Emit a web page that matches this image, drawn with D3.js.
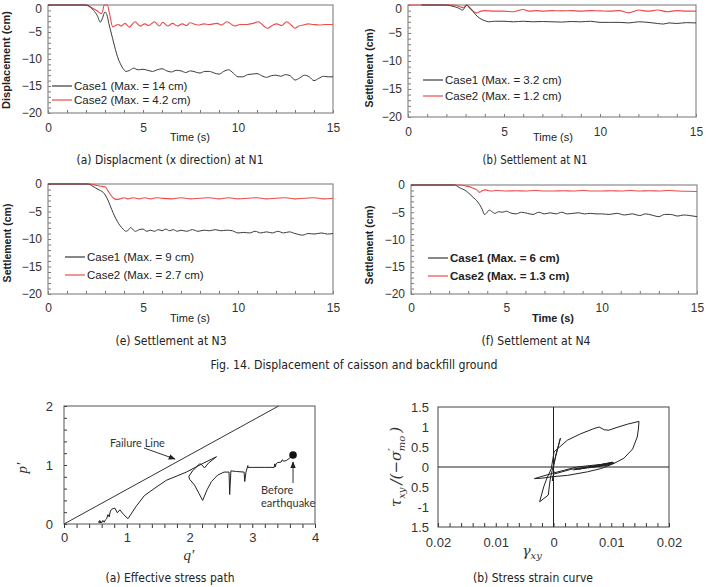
<!DOCTYPE html>
<html><head><meta charset="utf-8">
<script src="https://cdn.jsdelivr.net/npm/d3@7"></script>
<style>body{margin:0;background:#fff} svg{display:block}</style>
</head><body><svg id="c" width="708" height="587"></svg>
<script>
// ---------------- DATA ----------------
const timeTicks = [0, 5, 10, 15];
const dispTicks = [0, -5, -10, -15, -20];

// (a) Displacement (x direction) at N1
const aCase1 = [[0,0],[2.0,0],[2.2,-0.3],[2.4,-1.0],[2.6,-2.0],[2.75,-3.2],[2.85,-2.6],[3.0,-1.3],[3.1,-1.8],[3.2,-3.4],[3.3,-4.8],[3.4,-6.2],[3.5,-7.6],[3.6,-8.9],[3.7,-10.0],[3.8,-10.8],[3.9,-11.5],[4.0,-12.0],[4.1,-12.3],[4.3,-12.1],[4.5,-11.7],[4.75,-12.0],[5.0,-11.9],[5.25,-12.1],[5.5,-12.3],[5.75,-12.0],[6.0,-11.8],[6.25,-12.2],[6.5,-12.4],[6.75,-12.1],[7.0,-12.2],[7.25,-12.5],[7.5,-12.2],[7.75,-12.4],[8.0,-12.6],[8.25,-12.3],[8.5,-12.3],[8.75,-12.6],[9.0,-12.8],[9.25,-12.3],[9.5,-12.0],[9.75,-12.6],[10.0,-13.3],[10.25,-13.3],[10.5,-12.9],[10.75,-12.8],[11.0,-12.7],[11.25,-13.1],[11.5,-13.4],[11.75,-13.1],[12.0,-13.0],[12.25,-13.2],[12.5,-12.9],[12.75,-13.1],[13.0,-13.9],[13.25,-13.5],[13.5,-13.0],[13.75,-13.3],[14.0,-14.0],[14.25,-13.6],[14.5,-13.2],[14.75,-13.3],[15.0,-13.3]];
const aCase2 = [[0,0],[2.0,0],[2.3,-0.5],[2.6,-1.1],[2.8,-1.6],[2.9,-0.8],[2.95,0],[3.12,0],[3.25,-1.8],[3.4,-4.0],[3.55,-3.8],[3.7,-3.6],[3.85,-3.9],[4.05,-3.4],[4.28,-4.1],[4.58,-3.1],[4.84,-3.9],[5.1,-3.5],[5.3,-3.8],[5.6,-3.1],[5.86,-3.9],[6.04,-3.2],[6.3,-3.9],[6.56,-3.4],[6.8,-3.9],[7.07,-3.5],[7.3,-3.8],[7.47,-3.3],[7.9,-3.7],[8.2,-3.5],[8.5,-3.6],[8.9,-3.4],[9.15,-3.7],[9.4,-3.1],[9.84,-3.9],[10.1,-3.6],[10.46,-3.6],[10.8,-3.4],[11.07,-3.1],[11.3,-3.7],[11.54,-4.3],[11.8,-3.8],[12.04,-3.5],[12.3,-3.8],[12.56,-3.1],[12.8,-3.7],[13.0,-4.3],[13.2,-3.9],[13.44,-3.7],[13.7,-3.5],[13.95,-3.6],[14.3,-3.7],[14.6,-3.6],[15.0,-3.6]];

// (b) Settlement at N1
const bCase1 = [[0.7,0],[2.0,0],[2.3,-0.2],[2.6,-0.5],[2.85,-0.9],[3.0,-0.2],[3.05,0],[3.2,-0.5],[3.4,-1.2],[3.6,-2.0],[3.8,-2.5],[4.0,-2.8],[4.2,-3.0],[4.5,-2.9],[5,-2.9],[5.5,-3.0],[6,-2.9],[6.5,-3.0],[7,-2.95],[7.5,-3.0],[8,-3.05],[8.5,-2.95],[9,-3.0],[9.5,-2.9],[10,-3.1],[10.5,-3.1],[11,-3.1],[11.5,-3.2],[12,-3.0],[12.5,-3.1],[13,-3.3],[13.3,-3.4],[13.6,-3.2],[14,-3.3],[14.5,-3.15],[15,-3.2]];
const bCase2 = [[0,0],[2.4,0],[2.7,-0.3],[2.9,-0.5],[3.05,0],[3.2,-0.4],[3.4,-1.1],[3.55,-1.4],[3.8,-1.1],[4.0,-1.0],[4.5,-1.1],[5.0,-1.1],[5.5,-1.2],[6.0,-0.8],[6.3,-1.1],[6.7,-1.0],[7,-1.1],[7.5,-1.0],[8,-1.05],[8.5,-1.0],[9,-1.1],[9.5,-1.0],[10,-1.05],[10.5,-1.1],[11,-1.0],[11.5,-1.4],[11.8,-1.1],[12,-0.9],[12.5,-1.1],[13,-0.9],[13.5,-1.2],[14,-1.0],[14.5,-1.1],[15,-1.1]];

// (e) Settlement at N3
const eCase1 = [[0,0],[2.1,0],[2.3,-0.3],[2.5,-0.7],[2.7,-1.1],[2.9,-1.5],[3.05,-2.2],[3.2,-3.3],[3.35,-4.6],[3.5,-5.8],[3.65,-6.8],[3.8,-7.6],[3.95,-8.2],[4.1,-8.6],[4.25,-8.3],[4.35,-7.9],[4.5,-8.4],[4.6,-8.6],[4.8,-8.3],[5.0,-8.2],[5.2,-8.6],[5.4,-8.4],[5.6,-8.6],[5.8,-8.3],[6.0,-8.5],[6.2,-8.2],[6.4,-8.5],[6.6,-8.3],[6.8,-8.6],[7.0,-8.4],[7.3,-8.6],[7.6,-8.3],[7.9,-8.6],[8.2,-8.4],[8.5,-8.5],[8.8,-8.3],[9.1,-8.5],[9.4,-8.4],[9.7,-8.5],[10.0,-8.9],[10.3,-8.8],[10.6,-8.9],[10.9,-8.6],[11.2,-8.9],[11.5,-8.7],[11.8,-8.9],[12.1,-8.6],[12.4,-8.9],[12.7,-8.7],[13.0,-9.0],[13.4,-9.3],[13.7,-9.0],[14.0,-9.1],[14.4,-8.9],[14.7,-9.1],[15.0,-9.0]];
const eCase2 = [[0,0],[2.2,0],[2.5,-0.2],[2.8,-0.4],[3.0,-0.5],[3.15,-1.2],[3.3,-2.0],[3.45,-2.6],[3.6,-2.8],[3.8,-2.7],[4.0,-2.5],[4.2,-2.7],[4.5,-2.5],[4.8,-2.7],[5.1,-2.5],[5.4,-2.7],[5.7,-2.5],[6.0,-2.6],[6.5,-2.7],[7.0,-2.5],[7.5,-2.7],[8,-2.6],[8.5,-2.5],[9,-2.7],[9.5,-2.5],[10,-2.7],[10.5,-2.6],[11,-2.5],[11.5,-2.7],[12,-2.6],[12.5,-2.5],[13,-2.7],[13.5,-2.6],[14,-2.5],[14.5,-2.7],[15,-2.6]];

// (f) Settlement at N4
const fCase1 = [[0,0],[2.3,0],[2.45,-0.3],[2.6,-0.6],[2.8,-0.9],[3.0,-1.4],[3.15,-1.9],[3.3,-2.4],[3.45,-2.9],[3.6,-3.6],[3.75,-4.6],[3.85,-5.4],[3.95,-5.2],[4.1,-4.6],[4.25,-4.9],[4.4,-5.2],[4.6,-4.9],[4.8,-5.0],[5.0,-4.8],[5.2,-5.1],[5.5,-5.3],[5.8,-5.0],[6.1,-5.2],[6.4,-5.4],[6.7,-5.0],[7.0,-5.3],[7.3,-5.1],[7.6,-5.3],[7.9,-5.0],[8.2,-5.3],[8.5,-5.2],[8.8,-5.1],[9.1,-5.3],[9.4,-5.2],[9.7,-5.3],[10,-5.3],[10.4,-5.4],[10.8,-5.2],[11.2,-5.5],[11.6,-5.3],[12,-5.6],[12.3,-5.3],[12.6,-5.5],[13.0,-5.8],[13.3,-5.4],[13.6,-5.4],[14.0,-5.7],[14.3,-5.5],[14.6,-5.6],[15,-5.8]];
const fCase2 = [[0,0],[2.6,0],[2.9,-0.2],[3.2,-0.5],[3.45,-0.9],[3.6,-1.35],[3.75,-1.0],[3.9,-0.9],[4.2,-1.1],[4.5,-1.0],[5,-1.1],[5.5,-1.05],[6,-1.1],[6.5,-1.0],[7,-1.1],[7.5,-1.1],[8,-1.05],[8.5,-1.1],[9,-1.0],[9.5,-1.1],[10,-1.1],[10.5,-1.05],[11,-1.1],[11.5,-1.0],[12,-1.1],[12.5,-1.05],[13,-1.1],[13.5,-1.0],[14,-1.1],[14.5,-1.15],[15,-1.2]];

const legendA = ["Case1 (Max. = 14 cm)", "Case2 (Max. = 4.2 cm)"];
const legendB = ["Case1 (Max. = 3.2 cm)", "Case2 (Max. = 1.2 cm)"];
const legendE = ["Case1 (Max. = 9 cm)", "Case2 (Max. = 2.7 cm)"];
const legendF = ["Case1 (Max. = 6 cm)", "Case2 (Max. = 1.3 cm)"];

// Effective stress path (q', p')
const qTicks = [0, 1, 2, 3, 4];
const pTicks = [0, 1, 2];
const failQ = [0, 3.42];
const failP = [0, 2];
const pathQ = [3.65,3.60,3.55,3.52,3.50,3.48,3.46,3.40,3.38,3.37,3.36,3.35,3.20,3.00,2.93,2.93,2.90,2.88,2.87,2.75,2.66,2.64,2.63,2.55,2.45,2.35,2.28,2.21,2.15,2.08,2.00,1.99,2.05,2.16,2.19,2.24,2.30,2.43,2.20,1.95,1.63,1.45,1.28,1.15,1.02,0.95,0.89,0.85,0.81,0.76,0.74,0.72,0.70,0.68,0.66,0.64,0.62,0.60,0.58,0.56,0.55,0.57,0.59,0.56];
const pathP = [1.16,1.12,1.08,1.07,1.06,1.09,1.05,1.04,1.02,0.97,1.02,0.96,0.96,0.96,0.96,0.99,0.88,0.72,0.88,0.89,0.90,0.50,0.88,0.88,0.83,0.72,0.58,0.40,0.52,0.66,0.76,0.81,0.90,1.02,1.01,0.95,1.03,1.14,1.02,0.88,0.74,0.61,0.48,0.30,0.09,0.16,0.24,0.19,0.27,0.25,0.22,0.12,0.16,0.09,0.07,0.03,0.06,0.02,0.05,0.02,0.03,0.06,0.02,0.04];
const beforeEQ = [3.65, 1.17];

// Stress strain curve (gamma_xy, tau_xy/(-sigma'_mo))
const gTickVals = [-0.02, -0.01, 0, 0.01, 0.02];
const gTickLabels = ["0.02", "0.01", "0", "0.01", "0.02"];
const tTickVals = [1.5, 1, 0.5, 0, -0.5, -1, -1.5];
const tTickLabels = ["1.5", "1", "0.5", "0", "0.5", "-1", "1.5"];
const ssGamma = [0,0.0004,0.0012,0.0008,0.0000,-0.0005,-0.0007,-0.0009,-0.0024,-0.0017,-0.0012,-0.0004,0.0001,0.0024,0.0047,0.0070,0.0079,0.0088,0.0096,0.0110,0.0128,0.0148,0.0147,0.0145,0.0137,0.0122,0.0105,0.0082,0.0059,0.0024,0.0000,-0.0020,-0.0033,0.0000,0.0040,0.0105,0.0035,0.0100,0.0045,0.0102,0.0060,0.0098,0.0070,0.0104,0.0030,0.0000,-0.0002,0.0001];
const ssTau = [0,0.30,0.72,0.50,0.05,-0.25,-0.45,-0.70,-0.87,-0.50,-0.30,-0.05,0.38,0.67,0.83,0.96,1.00,0.93,0.92,0.99,1.07,1.14,0.95,0.75,0.45,0.22,0.09,-0.04,-0.12,-0.21,-0.24,-0.28,-0.29,-0.15,0.00,0.10,-0.07,0.08,-0.05,0.12,-0.02,0.06,0.00,0.10,-0.06,-0.18,-0.35,-0.10];

// ---------------- DRAWING ----------------
const svg = d3.select("#c");
svg.append("rect").attr("width",708).attr("height",587).attr("fill","#fff");
const BLACK = "#3a3a3a", RED = "#ee4a4a";
const SANS = "'Liberation Sans', Arial, sans-serif";
const CAP = "'Liberation Sans Narrow','DejaVu Sans Condensed','Liberation Sans',sans-serif";

function styleAxis(g, col) {
  g.select(".domain").remove();
  g.selectAll("line").attr("stroke", col);
  g.selectAll("text").attr("fill", "#333");
}

function tsPanel(o) {
  const x = d3.scaleLinear().domain([0,15]).range([o.x0,o.x1]);
  const y = d3.scaleLinear().domain([-20,0]).range([o.y1,o.y0]);
  const g = svg.append("g");
  g.append("g").attr("transform",`translate(0,${o.y1})`)
    .call(d3.axisTop(x).ticks(15).tickSize(3).tickFormat(""))
    .call(a => styleAxis(a, "#777"));
  g.append("g").attr("transform",`translate(${o.x0},0)`)
    .call(d3.axisRight(y).ticks(20).tickSize(3).tickFormat(""))
    .call(a => styleAxis(a, "#777"));
  g.append("g").attr("transform",`translate(0,${o.y1})`)
    .call(d3.axisBottom(x).tickValues(timeTicks).tickSize(0).tickPadding(o.xpad))
    .call(a => styleAxis(a, "#777"))
    .selectAll("text").attr("font-family",SANS).attr("font-size",12);
  const yl = g.append("g").attr("transform",`translate(${o.x0},0)`)
    .call(d3.axisLeft(y).tickValues(dispTicks).tickSize(0).tickPadding(6))
    .call(a => styleAxis(a, "#777"));
  yl.selectAll("text").attr("font-family",SANS).attr("font-size",12);
  if (o.y0 < 10) yl.selectAll("text").filter(d => d === 0).attr("dy","0.62em");
  g.append("rect").attr("x",o.x0).attr("y",o.y0).attr("width",o.x1-o.x0).attr("height",o.y1-o.y0)
    .attr("fill","none").attr("stroke","#8a8a8a").attr("stroke-width",1.2);
  const line = d3.line().x(d=>x(d[0])).y(d=>y(d[1])).curve(d3.curveMonotoneX);
  g.append("path").datum(o.s2).attr("d",line).attr("fill","none").attr("stroke",RED).attr("stroke-width",1.1);
  g.append("path").datum(o.s1).attr("d",line).attr("fill","none").attr("stroke",BLACK).attr("stroke-width",1);
  [[BLACK,o.legY[0],o.leg[0]],[RED,o.legY[1],o.leg[1]]].forEach(([c,ly,t]) => {
    g.append("line").attr("x1",o.legX).attr("x2",o.legX+20).attr("y1",ly).attr("y2",ly).attr("stroke",c).attr("stroke-width",1.2);
    g.append("text").attr("x",o.legX+22).attr("y",ly+4).text(t)
      .attr("font-family",SANS).attr("font-size",11.5).attr("fill","#222").attr("font-weight",o.bold?"bold":"normal");
  });
  g.append("text").attr("x",o.tx).attr("y",o.ty).attr("text-anchor","middle").text("Time (s)")
    .attr("font-family",SANS).attr("font-size",11).attr("fill","#222").attr("font-weight",o.bold?"bold":"normal");
  g.append("text").attr("transform",`translate(${o.yx},${o.yy}) rotate(-90)`).attr("text-anchor","middle")
    .text(o.ylab).attr("font-family",SANS).attr("font-size",o.ysize).attr("font-weight","bold").attr("fill","#222");
}

tsPanel({x0:48,x1:333,y0:5,y1:113,xpad:10,s1:aCase1,s2:aCase2,leg:legendA,legX:52,legY:[86,100],
  tx:190,ty:141,yx:10,yy:60,ylab:"Displacement (cm)",ysize:11,bold:false});
tsPanel({x0:408,x1:696,y0:5,y1:117,xpad:10,s1:bCase1,s2:bCase2,leg:legendB,legX:423,legY:[80,96],
  tx:553,ty:141,yx:373,yy:68,ylab:"Settlement (cm)",ysize:10.5,bold:false});
tsPanel({x0:48,x1:333,y0:184,y1:294,xpad:9,s1:eCase1,s2:eCase2,leg:legendE,legX:65,legY:[257,275],
  tx:190,ty:322,yx:11,yy:243,ylab:"Settlement (cm)",ysize:10.5,bold:false});
tsPanel({x0:411,x1:697,y0:185,y1:294,xpad:9,s1:fCase1,s2:fCase2,leg:legendF,legX:428,legY:[258,276],
  tx:553,ty:322,yx:373,yy:245,ylab:"Settlement (cm)",ysize:10.5,bold:true});

function caption(t, cx, by, w, size) {
  svg.append("text").attr("x",cx).attr("y",by).attr("text-anchor","middle").text(t)
    .attr("font-family",CAP).attr("font-size",size||13).attr("fill","#222")
    .attr("textLength",w).attr("lengthAdjust","spacingAndGlyphs");
}
caption("(a)  Displacment  (x  direction)  at  N1", 170, 164, 187);
caption("(b)  Settlement  at  N1", 535, 164, 105);
caption("(e)  Settlement  at  N3", 171, 345, 111);
caption("(f)  Settlement  at  N4", 536, 345, 109);
caption("Fig.  14.  Displacement  of  caisson  and  backfill  ground", 354, 369, 287);
caption("(a)  Effective  stress  path", 170, 582, 129);
caption("(b)  Stress  strain  curve", 533, 582, 120);

const defs = svg.append("defs");
defs.append("marker").attr("id","arr").attr("viewBox","0 0 10 10").attr("refX",9).attr("refY",5)
  .attr("markerWidth",7).attr("markerHeight",7).attr("orient","auto-start-reverse")
  .append("path").attr("d","M0,1 L10,5 L0,9 z").attr("fill","#222");

// ---- Effective stress path ----
{
  const x = d3.scaleLinear().domain([0,4]).range([64,315]);
  const y = d3.scaleLinear().domain([0,2]).range([524,406]);
  const g = svg.append("g");
  g.append("g").attr("transform","translate(0,524)")
    .call(d3.axisBottom(x).ticks(20).tickSize(4).tickFormat(""))
    .call(a => styleAxis(a,"#333"));
  g.append("g").attr("transform","translate(64,0)")
    .call(d3.axisRight(y).ticks(10).tickSize(3).tickFormat(""))
    .call(a => styleAxis(a,"#333"));
  g.append("g").attr("transform","translate(0,524)")
    .call(d3.axisBottom(x).tickValues(qTicks).tickSize(0).tickPadding(9).tickFormat(d3.format("d")))
    .call(a => styleAxis(a,"#333"))
    .selectAll("text").attr("font-family",SANS).attr("font-size",13);
  g.append("g").attr("transform","translate(64,0)")
    .call(d3.axisLeft(y).tickValues(pTicks).tickSize(0).tickPadding(11).tickFormat(d3.format("d")))
    .call(a => styleAxis(a,"#333"))
    .selectAll("text").attr("font-family",SANS).attr("font-size",13);
  g.append("rect").attr("x",64).attr("y",406).attr("width",251).attr("height",118)
    .attr("fill","none").attr("stroke","#555").attr("stroke-width",1);
  const fl = failQ.map((q,i)=>[q,failP[i]]);
  g.append("path").datum(fl).attr("d",d3.line().x(d=>x(d[0])).y(d=>y(d[1]))).attr("fill","none").attr("stroke","#333").attr("stroke-width",1);
  const sp = pathQ.map((q,i)=>[q,pathP[i]]);
  g.append("path").datum(sp).attr("d",d3.line().x(d=>x(d[0])).y(d=>y(d[1]))).attr("fill","none").attr("stroke","#222").attr("stroke-width",1);
  g.append("circle").attr("cx",x(beforeEQ[0])).attr("cy",y(beforeEQ[1])).attr("r",3.8).attr("fill","#111");
  const LAB = "Lato, 'Open Sans', sans-serif";
  g.append("text").attr("x",110).attr("y",447).text("Failure Line").attr("font-family",LAB).attr("font-size",11).attr("fill","#333");
  g.append("line").attr("x1",144).attr("y1",448).attr("x2",175).attr("y2",459).attr("stroke","#333").attr("stroke-width",1).attr("marker-end","url(#arr)");
  g.append("text").attr("x",261).attr("y",494).text("Before").attr("font-family",LAB).attr("font-size",11).attr("fill","#333");
  g.append("text").attr("x",261).attr("y",507).text("earthquake").attr("font-family",LAB).attr("font-size",11).attr("fill","#333");
  g.append("line").attr("x1",x(beforeEQ[0])).attr("y1",483).attr("x2",x(beforeEQ[0])).attr("y2",462).attr("stroke","#333").attr("stroke-width",1).attr("marker-end","url(#arr)");
  g.append("text").attr("transform","translate(27,468) rotate(-90)").attr("text-anchor","middle")
    .text("p\u2032").attr("font-family","'Liberation Serif',serif").attr("font-style","italic").attr("font-size",15).attr("fill","#333");
  g.append("text").attr("x",189).attr("y",560).attr("text-anchor","middle")
    .text("q\u2032").attr("font-family","'Liberation Serif',serif").attr("font-style","italic").attr("font-size",15).attr("fill","#333");
}

// ---- Stress strain curve ----
{
  const x = d3.scaleLinear().domain([-0.02,0.02]).range([438,669]);
  const y = d3.scaleLinear().domain([-1.5,1.5]).range([527,407]);
  const g = svg.append("g");
  g.append("g").attr("transform","translate(0,527)")
    .call(d3.axisTop(x).ticks(20).tickSize(4).tickFormat(""))
    .call(a => styleAxis(a,"#333"));
  g.append("g").attr("transform","translate(0,527)")
    .call(d3.axisBottom(x).tickValues(gTickVals).tickSize(0).tickPadding(11).tickFormat((d,i)=>gTickLabels[i]))
    .call(a => styleAxis(a,"#333"))
    .selectAll("text").attr("font-family",SANS).attr("font-size",13);
  g.append("g").attr("transform","translate(438,0)")
    .call(d3.axisLeft(y).tickValues(tTickVals).tickSize(0).tickPadding(9).tickFormat((d,i)=>tTickLabels[i]))
    .call(a => styleAxis(a,"#333"))
    .selectAll("text").attr("font-family",SANS).attr("font-size",13);
  g.append("rect").attr("x",438).attr("y",407).attr("width",231).attr("height",120)
    .attr("fill","none").attr("stroke","#444").attr("stroke-width",1);
  g.append("line").attr("x1",x(0)).attr("x2",x(0)).attr("y1",407).attr("y2",527).attr("stroke","#222");
  g.append("line").attr("x1",438).attr("x2",669).attr("y1",y(0)).attr("y2",y(0)).attr("stroke","#222");
  const ss = ssGamma.map((v,i)=>[v,ssTau[i]]);
  g.append("path").datum(ss).attr("d",d3.line().x(d=>x(d[0])).y(d=>y(d[1]))).attr("fill","none").attr("stroke","#222").attr("stroke-width",1);
  const yl = g.append("text").attr("transform","translate(401,467) rotate(-90)").attr("text-anchor","middle")
    .attr("font-family","'DejaVu Serif','Liberation Serif',serif").attr("font-style","italic").attr("font-size",15).attr("fill","#333");
  yl.append("tspan").text("\u03c4");
  yl.append("tspan").text("xy").attr("font-size",10).attr("dy",4);
  yl.append("tspan").text("\u2009/(\u2212\u03c3").attr("dy",-4);
  yl.append("tspan").text("\u2032").attr("font-size",11).attr("dy",-5);
  yl.append("tspan").text("mo").attr("font-size",10).attr("dx",-3).attr("dy",9);
  yl.append("tspan").text("\u2009)").attr("dy",-4);
  const xl = g.append("text").attr("x",532).attr("y",556).attr("text-anchor","middle")
    .attr("font-family","'DejaVu Serif','Liberation Serif',serif").attr("font-style","italic").attr("font-size",14).attr("fill","#333");
  xl.append("tspan").text("\u03b3");
  xl.append("tspan").text("xy").attr("font-size",10).attr("dy",3);
}
</script></body></html>
